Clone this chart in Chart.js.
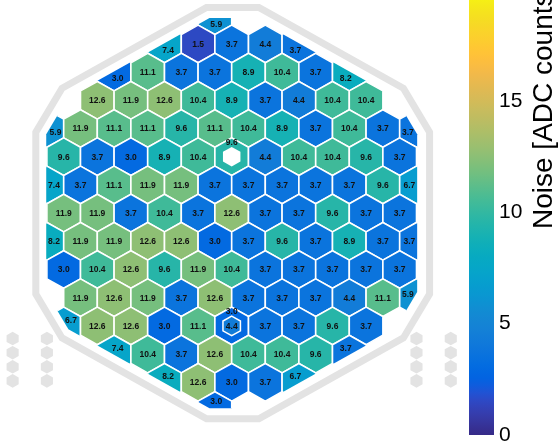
<!DOCTYPE html>
<html>
<head>
<meta charset="utf-8">
<script src="https://cdn.jsdelivr.net/npm/chart.js@4.4.1/dist/chart.umd.min.js"></script>
<style>
  html, body { margin: 0; padding: 0; background: #fff; }
  #wrap { width: 559px; height: 444px; }
</style>
</head>
<body>
<div id="wrap"><canvas id="c" width="559" height="444"></canvas></div>
<script>
// Noise per channel, one array per sensor row, top to bottom.
// Even rows have 12 slots (columns -5.5 ... 5.5), odd rows 11 slots (-5 ... 5); null = no cell.
const row00 = [null, null, null, null, null, 5.9, null, null, null, null, null, null];
const row01 = [null, null, null, 7.4, 1.5, 3.7, 4.4, 3.7, null, null, null];
const row02 = [null, null, 3.0, 11.1, 3.7, 3.7, 8.9, 10.4, 3.7, 8.2, null, null];
const row03 = [null, 12.6, 11.9, 12.6, 10.4, 8.9, 3.7, 4.4, 10.4, 10.4, null];
const row04 = [5.9, 11.9, 11.1, 11.1, 9.6, 11.1, 10.4, 8.9, 3.7, 10.4, 3.7, 3.7];
const row05 = [9.6, 3.7, 3.0, 8.9, 10.4, 9.6, 4.4, 10.4, 10.4, 9.6, 3.7];
const row06 = [7.4, 3.7, 11.1, 11.9, 11.9, 3.7, 3.7, 3.7, 3.7, 3.7, 9.6, 6.7];
const row07 = [11.9, 11.9, 3.7, 10.4, 3.7, 12.6, 3.7, 3.7, 9.6, 3.7, 3.7];
const row08 = [8.2, 11.9, 11.9, 12.6, 12.6, 3.0, 3.7, 9.6, 3.7, 8.9, 3.7, 3.7];
const row09 = [3.0, 10.4, 12.6, 9.6, 11.9, 10.4, 3.7, 3.7, 3.7, 3.7, 3.7];
const row10 = [null, 11.9, 12.6, 11.9, 3.7, 12.6, 3.7, 3.7, 3.7, 4.4, 11.1, 5.9];
const row11 = [6.7, 12.6, 12.6, 3.0, 11.1, 3.0, 3.7, 3.7, 9.6, 3.7, null];
const row12 = [null, null, 7.4, 10.4, 3.7, 12.6, 10.4, 10.4, 9.6, 3.7, null, null];
const row13 = [null, null, null, 8.2, 12.6, 3.0, 3.7, 6.7, null, null, null];
const row14 = [null, null, null, null, null, 3.0, null, null, null, null, null, null];
const noiseRows = [row00, row01, row02, row03, row04, row05, row06, row07,
                   row08, row09, row10, row11, row12, row13, row14];

// Calibration pads sitting inside a full cell (row, slot, pad noise; null = unread)
const calibRows = [5, 11];
const calibSlots = [5, 5];
const calibValues = [null, 4.4];

// Colour bar
const colorbarTicks = [0, 5, 10, 15];
const colorbarTitle = 'Noise [ADC counts]';
const noiseMin = 0;
const noiseMax = 20;

// ---- styling / geometry (data units: x = cell column, y = cell row) ----
const ROW_U = Math.sqrt(3) / 2;               // one row expressed in column widths
const SENSOR = { cx: 0, cy: 7, halfWidth: 5.52, cut: 0.381 };
const BOARD  = { cx: 0.03, cy: 7, halfWidth: 5.86, cut: 0.45 };
const PAD_COLS = [-6.52, -5.5, 5.5, 6.52];
const PAD_ROWS = [11.45, 11.95, 12.45, 12.95];
const GREY = '#e3e3e3';
const LABEL_FONT = 'bold 8.5px "Liberation Sans", Arial, sans-serif';

// MATLAB-style parula, 64 entries
const PARULA = [
[0.2081,0.1663,0.5292],[0.2116,0.1898,0.5777],[0.2123,0.2138,0.6270],[0.2081,0.2386,0.6771],
[0.1959,0.2645,0.7279],[0.1707,0.2919,0.7792],[0.1253,0.3242,0.8303],[0.0591,0.3598,0.8683],
[0.0117,0.3875,0.8820],[0.0060,0.4086,0.8828],[0.0165,0.4266,0.8786],[0.0329,0.4430,0.8720],
[0.0498,0.4586,0.8641],[0.0629,0.4737,0.8554],[0.0723,0.4887,0.8467],[0.0779,0.5040,0.8384],
[0.0793,0.5200,0.8312],[0.0749,0.5375,0.8263],[0.0641,0.5570,0.8240],[0.0488,0.5772,0.8228],
[0.0343,0.5966,0.8199],[0.0265,0.6137,0.8135],[0.0239,0.6287,0.8038],[0.0231,0.6418,0.7913],
[0.0228,0.6535,0.7768],[0.0267,0.6642,0.7607],[0.0384,0.6743,0.7436],[0.0590,0.6838,0.7254],
[0.0843,0.6928,0.7062],[0.1133,0.7015,0.6859],[0.1453,0.7098,0.6646],[0.1801,0.7177,0.6424],
[0.2178,0.7250,0.6193],[0.2586,0.7317,0.5954],[0.3022,0.7376,0.5712],[0.3482,0.7424,0.5473],
[0.3953,0.7459,0.5244],[0.4420,0.7481,0.5033],[0.4871,0.7491,0.4840],[0.5300,0.7491,0.4661],
[0.5709,0.7485,0.4494],[0.6099,0.7473,0.4337],[0.6473,0.7456,0.4188],[0.6834,0.7435,0.4044],
[0.7184,0.7411,0.3905],[0.7525,0.7384,0.3768],[0.7858,0.7356,0.3633],[0.8185,0.7327,0.3498],
[0.8507,0.7299,0.3360],[0.8824,0.7274,0.3217],[0.9139,0.7258,0.3063],[0.9450,0.7261,0.2886],
[0.9739,0.7314,0.2666],[0.9938,0.7455,0.2403],[0.9990,0.7653,0.2164],[0.9955,0.7861,0.1967],
[0.9880,0.8066,0.1794],[0.9789,0.8271,0.1633],[0.9697,0.8481,0.1475],[0.9626,0.8705,0.1309],
[0.9589,0.8949,0.1132],[0.9598,0.9218,0.0948],[0.9661,0.9514,0.0755],[0.9763,0.9831,0.0538]];

function parula(v) {
  let t = (v - noiseMin) / (noiseMax - noiseMin);
  t = Math.max(0, Math.min(1, t)) * (PARULA.length - 1);
  const i = Math.min(PARULA.length - 2, Math.floor(t)), f = t - i;
  const a = PARULA[i], b = PARULA[i + 1];
  const c = a.map((x, k) => Math.round(255 * (x + (b[k] - x) * f)));
  return `rgb(${c[0]},${c[1]},${c[2]})`;
}

function slotToCol(row, slot) { return row % 2 === 0 ? slot - 5.5 : slot - 5; }

// Cells as scatter points {x: column, y: row, v: noise}
const cells = [];
noiseRows.forEach((vals, r) => vals.forEach((v, k) => {
  if (v !== null) cells.push({ x: slotToCol(r, k), y: r, v: v });
}));
const calibPads = calibRows.map((r, i) => ({ x: slotToCol(r, calibSlots[i]), y: r, v: calibValues[i] }));

// Pointy-top hexagon with all six corners cut, in (column,row) units
function chamferedHex(g) {
  const R = g.halfWidth / Math.cos(Math.PI / 6);
  const v = [];
  for (let i = 0; i < 6; i++) {
    const a = -Math.PI / 2 + i * Math.PI / 3;
    v.push([g.cx + R * Math.cos(a), g.cy * ROW_U + R * Math.sin(a)]);
  }
  const t = 2 * g.cut / R, out = [];
  for (let i = 0; i < 6; i++) {
    const p = v[(i + 5) % 6], c = v[i], n = v[(i + 1) % 6];
    out.push([c[0] + (p[0] - c[0]) * t, c[1] + (p[1] - c[1]) * t]);
    out.push([c[0] + (n[0] - c[0]) * t, c[1] + (n[1] - c[1]) * t]);
  }
  return out.map(([x, y]) => [x, y / ROW_U]);
}

function cellHex(cx, cy, s) {
  const hw = 0.5 * s, hv = s / 3;
  return [[cx, cy - 2 * hv], [cx + hw, cy - hv], [cx + hw, cy + hv],
          [cx, cy + 2 * hv], [cx - hw, cy + hv], [cx - hw, cy - hv]];
}

function toPixels(chart, poly) {
  const xs = chart.scales.x, ys = chart.scales.y;
  return poly.map(([x, y]) => [xs.getPixelForValue(x), ys.getPixelForValue(y)]);
}

function tracePath(ctx, pts) {
  ctx.beginPath();
  pts.forEach((p, i) => i ? ctx.lineTo(p[0], p[1]) : ctx.moveTo(p[0], p[1]));
  ctx.closePath();
}

function signedArea(p) {
  let a = 0;
  for (let i = 0; i < p.length; i++) { const q = p[i], r = p[(i + 1) % p.length]; a += q[0] * r[1] - r[0] * q[1]; }
  return a / 2;
}

// Sutherland-Hodgman clip of a polygon by a convex polygon
function clipPoly(subject, clip) {
  const sgn = Math.sign(signedArea(clip));
  let out = subject;
  for (let i = 0; i < clip.length && out.length; i++) {
    const A = clip[i], B = clip[(i + 1) % clip.length];
    const side = P => (B[0] - A[0]) * (P[1] - A[1]) - (B[1] - A[1]) * (P[0] - A[0]);
    const inside = P => sgn * side(P) >= 0;
    const cross = (P, Q) => {
      const d1 = side(P), d2 = side(Q), t = d1 / (d1 - d2);
      return [P[0] + (Q[0] - P[0]) * t, P[1] + (Q[1] - P[1]) * t];
    };
    const inp = out; out = [];
    for (let j = 0; j < inp.length; j++) {
      const P = inp[j], Q = inp[(j + 1) % inp.length];
      const pi = inside(P), qi = inside(Q);
      if (pi) { out.push(P); if (!qi) out.push(cross(P, Q)); }
      else if (qi) out.push(cross(P, Q));
    }
  }
  return out;
}

function centroid(p) {
  let a = 0, cx = 0, cy = 0;
  for (let i = 0; i < p.length; i++) {
    const q = p[i], r = p[(i + 1) % p.length], k = q[0] * r[1] - r[0] * q[1];
    a += k; cx += (q[0] + r[0]) * k; cy += (q[1] + r[1]) * k;
  }
  return [cx / (3 * a), cy / (3 * a)];
}

const hexMapPlugin = {
  id: 'hexMap',
  beforeDraw(chart) {
    const ctx = chart.ctx;
    ctx.save();
    ctx.fillStyle = '#fff';
    ctx.fillRect(0, 0, chart.width, chart.height);
    ctx.restore();
  },
  afterDatasetsDraw(chart) {
    const ctx = chart.ctx;
    const xs = chart.scales.x, ys = chart.scales.y;
    ctx.save();

    // board outline and spare pads
    tracePath(ctx, toPixels(chart, chamferedHex(BOARD)));
    ctx.strokeStyle = GREY; ctx.lineWidth = 7; ctx.lineJoin = 'miter';
    ctx.stroke();
    ctx.fillStyle = GREY;
    PAD_COLS.forEach(c => PAD_ROWS.forEach(r => {
      tracePath(ctx, toPixels(chart, cellHex(c, r, 0.36)));
      ctx.fill();
    }));

    // cells clipped to the sensor edge
    const sensorPx = toPixels(chart, chamferedHex(SENSOR));
    ctx.save();
    tracePath(ctx, sensorPx);
    ctx.clip();
    const meta = chart.getDatasetMeta(0);
    meta.data.forEach((el, i) => {
      const d = cells[i];
      tracePath(ctx, toPixels(chart, cellHex(d.x, d.y, 1)));
      ctx.fillStyle = parula(d.v);
      ctx.fill();
      ctx.strokeStyle = '#fff'; ctx.lineWidth = 1.6;
      ctx.stroke();
    });
    calibPads.forEach(p => {
      tracePath(ctx, toPixels(chart, cellHex(p.x, p.y, 0.52)));
      ctx.fillStyle = p.v === null ? '#fff' : parula(p.v);
      ctx.fill();
      if (p.v !== null) { ctx.strokeStyle = '#fff'; ctx.lineWidth = 1.5; ctx.stroke(); }
    });
    ctx.restore();

    // value labels at the centre of the visible part of each cell
    ctx.font = LABEL_FONT;
    ctx.fillStyle = '#111';
    ctx.textAlign = 'center';
    ctx.textBaseline = 'middle';
    const rowPx = Math.abs(ys.getPixelForValue(1) - ys.getPixelForValue(0));
    meta.data.forEach((el, i) => {
      const d = cells[i];
      const vis = clipPoly(toPixels(chart, cellHex(d.x, d.y, 1)), sensorPx);
      if (vis.length < 3) return;
      let [lx, ly] = centroid(vis);
      if (calibPads.some(p => p.x === d.x && p.y === d.y)) { lx = el.x; ly = el.y - 0.52 * rowPx; }
      ctx.fillText(d.v.toFixed(1), lx, ly + 0.5);
    });
    calibPads.forEach(p => {
      if (p.v === null) return;
      ctx.fillText(p.v.toFixed(1), xs.getPixelForValue(p.x), ys.getPixelForValue(p.y) + 0.5);
    });

    // colour bar
    const cb = chart.scales.cb;
    const y0 = cb.getPixelForValue(noiseMin), y1 = cb.getPixelForValue(noiseMax);
    const grad = ctx.createLinearGradient(0, y0, 0, y1);
    PARULA.forEach((c, k) => grad.addColorStop(k / (PARULA.length - 1),
      `rgb(${Math.round(c[0] * 255)},${Math.round(c[1] * 255)},${Math.round(c[2] * 255)})`));
    ctx.fillStyle = grad;
    const barW = 25;
    ctx.fillRect(cb.left - barW, y1, barW, y0 - y1);

    // colour bar title
    ctx.translate(cb.left + 58, y0 - 206);
    ctx.rotate(-Math.PI / 2);
    ctx.font = '28px "Liberation Sans", Arial, sans-serif';
    ctx.fillStyle = '#000';
    ctx.textAlign = 'left';
    ctx.textBaseline = 'alphabetic';
    ctx.fillText(colorbarTitle, 0, 0);
    ctx.restore();
  }
};

new Chart(document.getElementById('c').getContext('2d'), {
  type: 'scatter',
  data: { datasets: [{ data: cells, pointRadius: 0, pointHoverRadius: 0 }] },
  options: {
    responsive: false,
    animation: false,
    devicePixelRatio: 1,
    events: [],
    layout: { padding: { left: 0, right: 0, top: 0, bottom: 9 } },
    plugins: { legend: { display: false }, tooltip: { enabled: false } },
    scales: {
      x: { type: 'linear', display: false, min: -6.896, max: 7.807 },
      y: { type: 'linear', display: false, reverse: true, min: -0.557, max: 14.869 },
      cb: {
        type: 'linear', position: 'right', min: noiseMin, max: 19.54,
        grid: { display: false, drawTicks: false },
        border: { display: false },
        ticks: { color: '#000', padding: 5, font: { family: '"Liberation Sans", Arial, sans-serif', size: 21 } },
        afterBuildTicks: s => { s.ticks = colorbarTicks.map(v => ({ value: v })); },
        afterFit: s => { s.width = 65; s.paddingTop = 0; s.paddingBottom = 0; }
      }
    }
  },
  plugins: [hexMapPlugin]
});
</script>
</body>
</html>
